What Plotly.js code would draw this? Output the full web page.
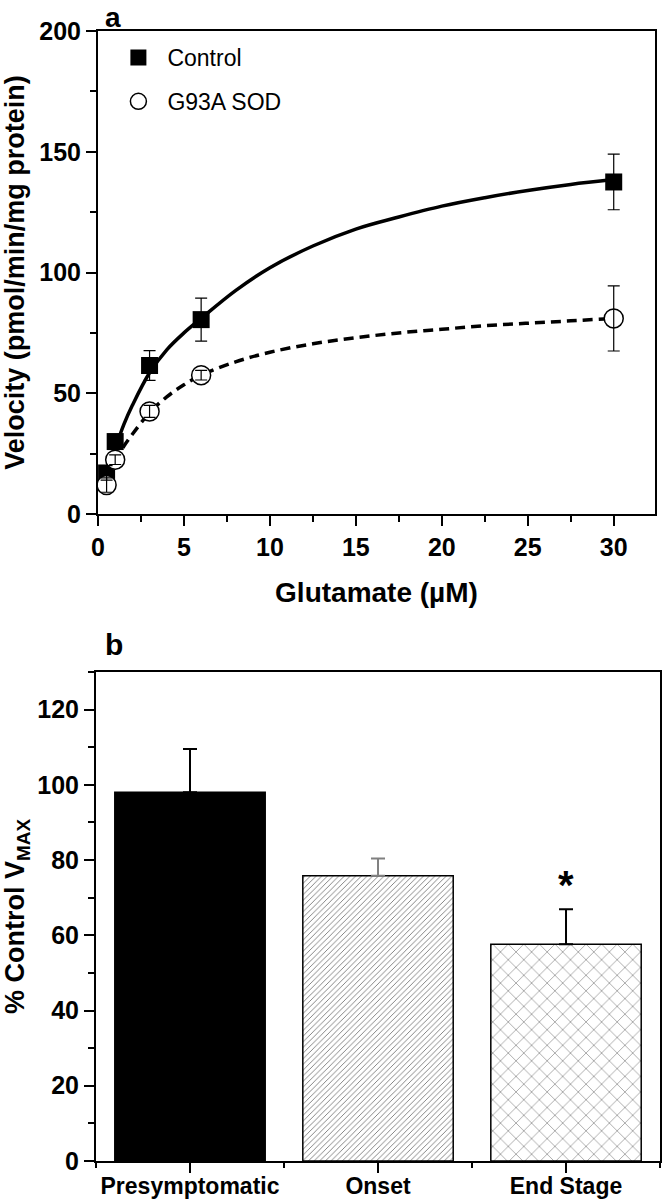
<!DOCTYPE html>
<html>
<head>
<meta charset="utf-8">
<script src="https://cdn.plot.ly/plotly-3.0.1.min.js"></script>
<style>html,body{margin:0;padding:0;background:#fff;}#chart{width:663px;height:1199px;}</style>
</head>
<body>
<div id="chart"></div>
<script>
// ---- Panel a: glutamate uptake kinetics ----
const glutamate = [0.5, 1, 3, 6, 30];
const controlVel = [17, 30, 61.5, 80.5, 137.5];
const controlErr = [3, 3, 6.2, 8.9, 11.5];
const g93aVel = [12, 22.5, 42.5, 57.5, 81];
const g93aErr = [3, 2, 2.5, 2, 13.5];
// fitted curves
const fitX = [1, 1.5, 2, 3, 4, 5, 6, 8, 10, 12.5, 15, 17.5, 20, 22.5, 25, 27.5, 30];
const controlFit = [27, 37, 45, 58.5, 68, 75, 81, 92.5, 102, 111, 118, 123, 127.5, 131, 134, 136.5, 138.5];
const g93aFit = [21.5, 28, 33, 42, 48.5, 53.5, 57.5, 63, 67, 70.5, 73, 75, 76.5, 78, 79, 80, 81];

// ---- Panel b: % control Vmax ----
const stages = ['Presymptomatic', 'Onset', 'End Stage'];
const vmaxPct = [98, 75.8, 57.6];
const vmaxErr = [11.5, 4.6, 9.3];

const FONT = 'Liberation Sans, Arial, sans-serif';
const bold = (s) => '<b>' + s + '</b>';

const traces = [
  {x: fitX, y: controlFit, mode: 'lines', line: {color: '#000', width: 3.5, shape: 'spline'}, showlegend: false, hoverinfo: 'skip', xaxis: 'x', yaxis: 'y'},
  {x: fitX, y: g93aFit, mode: 'lines', line: {color: '#000', width: 3.5, dash: '10px,6px', shape: 'spline'}, showlegend: false, hoverinfo: 'skip', xaxis: 'x', yaxis: 'y'},
  {x: glutamate, y: controlVel, name: 'Control', mode: 'markers', legendgroup: 'c',
   marker: {symbol: 'square', size: 17, color: '#000'}, xaxis: 'x', yaxis: 'y'},
  {x: glutamate, y: g93aVel, name: 'G93A SOD', mode: 'markers', legendgroup: 'g',
   marker: {symbol: 'circle', size: 19, color: '#fff', line: {color: '#000', width: 1.5}}, xaxis: 'x', yaxis: 'y'},
  {x: glutamate, y: controlVel, mode: 'markers', showlegend: false, marker: {size: 1, opacity: 0},
   error_y: {type: 'data', array: controlErr, visible: true, color: '#000', thickness: 1.2, width: 6}, xaxis: 'x', yaxis: 'y'},
  {x: glutamate, y: g93aVel, mode: 'markers', showlegend: false, marker: {size: 1, opacity: 0},
   error_y: {type: 'data', array: g93aErr, visible: true, color: '#000', thickness: 1.2, width: 6}, xaxis: 'x', yaxis: 'y'},
  // bars
  {type: 'bar', x: [stages[0]], y: [vmaxPct[0]], width: 0.8, showlegend: false,
   marker: {color: '#000', line: {color: '#000', width: 1.5}},
   error_y: {type: 'data', symmetric: false, array: [vmaxErr[0]], arrayminus: [0], color: '#000', thickness: 2, width: 7},
   xaxis: 'x2', yaxis: 'y2'},
  {type: 'bar', x: [stages[1]], y: [vmaxPct[1]], width: 0.8, showlegend: false,
   marker: {color: '#fff', line: {color: '#000', width: 1.5},
            pattern: {shape: '/', fgcolor: '#767676', bgcolor: '#fff', size: 4, solidity: 0.22, fillmode: 'replace'}},
   error_y: {type: 'data', symmetric: false, array: [vmaxErr[1]], arrayminus: [0], color: '#808080', thickness: 2, width: 7},
   xaxis: 'x2', yaxis: 'y2'},
  {type: 'bar', x: [stages[2]], y: [vmaxPct[2]], width: 0.8, showlegend: false,
   marker: {color: '#fff', line: {color: '#000', width: 1.5},
            pattern: {shape: 'x', fgcolor: '#6e6e6e', bgcolor: '#fff', size: 11, solidity: 0.1, fillmode: 'replace'}},
   error_y: {type: 'data', symmetric: false, array: [vmaxErr[2]], arrayminus: [0], color: '#000', thickness: 2, width: 7},
   xaxis: 'x2', yaxis: 'y2'},
  // invisible trace to carry boundary ticks on a linear overlay axis
  {x: [-0.5, 2.5], y: [0, 0], mode: 'markers', marker: {opacity: 0}, showlegend: false, hoverinfo: 'skip', xaxis: 'x3', yaxis: 'y2'}
];

const axLine = {showline: true, linecolor: '#000', linewidth: 2, mirror: true, ticks: 'outside', ticklen: 10, tickwidth: 2, tickcolor: '#000', showgrid: false, zeroline: false};
const tickFont = {family: FONT, size: 25, color: '#000', weight: 'bold'};

const layout = {
  width: 663, height: 1199,
  margin: {l: 0, r: 0, t: 0, b: 0},
  paper_bgcolor: '#fff', plot_bgcolor: '#fff',
  font: {family: FONT, color: '#000'},
  barmode: 'overlay',
  showlegend: true,
  legend: {x: 0.165, y: 0.97, xanchor: 'left', yanchor: 'top', traceorder: 'grouped', tracegroupgap: 11, itemwidth: 48,
           font: {family: FONT, size: 23, color: '#000'}, bgcolor: 'rgba(0,0,0,0)'},
  xaxis: Object.assign({}, axLine, {domain: [0.1478, 0.9879], range: [0, 32.4], dtick: 5, tick0: 0,
          minor: {dtick: 2.5, ticks: 'outside', ticklen: 6, tickwidth: 2, tickcolor: '#000'},
          tickfont: tickFont, anchor: 'y',
          title: {text: bold('Glutamate (µM)'), font: {family: FONT, size: 28, color: '#000'}, standoff: 22}}),
  yaxis: Object.assign({}, axLine, {domain: [0.5713, 0.9741], range: [0, 200], dtick: 50,
          minor: {dtick: 25, ticks: 'outside', ticklen: 6, tickwidth: 2, tickcolor: '#000'},
          tickfont: tickFont, anchor: 'x',
          title: {text: bold('Velocity (pmol/min/mg protein)'), font: {family: FONT, size: 27, color: '#000'}, standoff: 12}}),
  xaxis2: Object.assign({}, axLine, {domain: [0.1448, 0.9955], type: 'category', range: [-0.5, 2.5],
          tickfont: {family: FONT, size: 23, color: '#000', weight: 'bold'}, ticklabelstandoff: -7, anchor: 'y2'}),
  xaxis3: {domain: [0.1448, 0.9955], overlaying: 'x2', anchor: 'y2', range: [-0.5, 2.5], tickvals: [-0.5, 0.5, 1.5, 2.5],
          showticklabels: false, ticks: 'outside', ticklen: 6, tickwidth: 2, tickcolor: '#000', showgrid: false, zeroline: false, showline: false},
  yaxis2: Object.assign({}, axLine, {domain: [0.0317, 0.4396], range: [0, 130], dtick: 20, tick0: 0,
          minor: {dtick: 10, ticks: 'outside', ticklen: 6, tickwidth: 2, tickcolor: '#000'},
          tickfont: tickFont, anchor: 'x2',
          title: {text: bold('% Control V<sub>MAX</sub>'), font: {family: FONT, size: 27, color: '#000'}, standoff: 12}}),
  annotations: [
    {text: bold('a'), xref: 'paper', yref: 'paper', x: 103/663, y: 1 - 17/1199, xanchor: 'left', yanchor: 'middle', showarrow: false, font: {family: FONT, size: 28, color: '#000'}},
    {text: bold('b'), xref: 'paper', yref: 'paper', x: 103/663, y: 1 - 644/1199, xanchor: 'left', yanchor: 'middle', showarrow: false, font: {family: FONT, size: 30, color: '#000'}},
    {text: bold('*'), xref: 'x2', yref: 'y2', x: stages[2], y: vmaxErr[2] + vmaxPct[2] + 6.5, yanchor: 'middle', showarrow: false, font: {family: FONT, size: 40, color: '#000'}}
  ]
};

Plotly.newPlot('chart', traces, layout, {staticPlot: true, displayModeBar: false});
</script>
</body>
</html>
